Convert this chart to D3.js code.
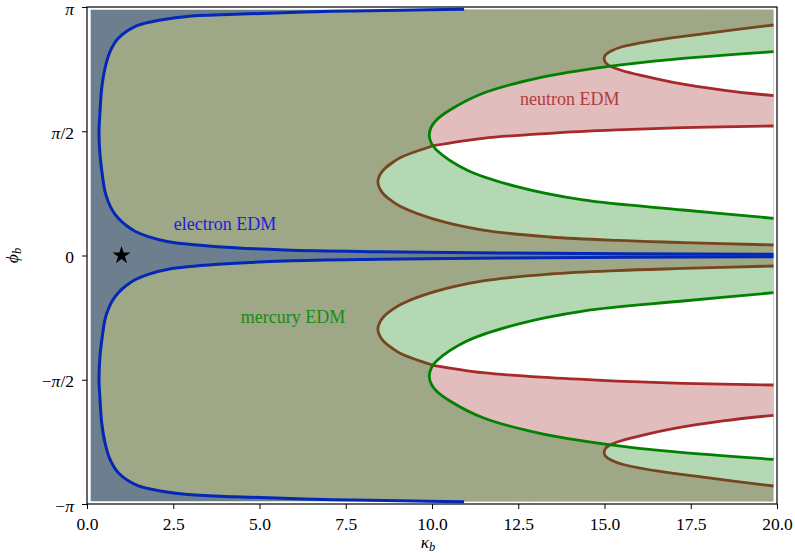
<!DOCTYPE html>
<html>
<head>
<meta charset="utf-8">
<script src="https://cdn.jsdelivr.net/npm/d3@7"></script>
<style>
  body { margin: 0; background: #fff; }
  svg text { font-family: "Liberation Serif", "Times New Roman", serif; }
</style>
</head>
<body>
<svg id="chart" width="795" height="553"></svg>
<script>
// axis ranges and ticks
const kappaDomain = [0, 20]
const phiDomain = [-Math.PI, Math.PI]
const gridKappa = [0.1, 19.9]
const gridPhi = [-3.11, 3.11]
const xTicks = [0, 2.5, 5, 7.5, 10, 12.5, 15, 17.5, 20]
const yTicks = [-Math.PI, -Math.PI / 2, 0, Math.PI / 2, Math.PI]
const yTickLabels = ['−π', '−π/2', '0', 'π/2', 'π']

// electron EDM contour, [kappa, phi]
const electronUpper = [
  [10.93, 3.113], [9.07, 3.101], [7.62, 3.091], [6.32, 3.078], [4.29, 3.049],
  [2.84, 3.019], [1.875, 2.956], [1.39, 2.893], [0.907, 2.746], [0.667, 2.577],
  [0.522, 2.367], [0.426, 2.114], [0.377, 1.818], [0.348, 1.565], [0.377, 1.271],
  [0.426, 1.081], [0.472, 0.933], [0.522, 0.807], [0.617, 0.680], [0.739, 0.569],
  [0.928, 0.461], [1.130, 0.383], [1.391, 0.307], [1.777, 0.238], [2.357, 0.174],
  [3.806, 0.111], [5.739, 0.070], [8.49, 0.048], [11.97, 0.032], [19.9, 0.015]
]
const electronLower = [
  [10.93, -3.113], [9.07, -3.101], [7.62, -3.091], [6.32, -3.078], [4.29, -3.049],
  [2.84, -3.019], [1.875, -2.956], [1.39, -2.893], [0.907, -2.746], [0.667, -2.577],
  [0.522, -2.367], [0.426, -2.114], [0.377, -1.818], [0.348, -1.565], [0.377, -1.271],
  [0.426, -1.081], [0.472, -0.933], [0.522, -0.807], [0.617, -0.680], [0.739, -0.569],
  [0.928, -0.461], [1.130, -0.383], [1.391, -0.307], [1.777, -0.238], [2.357, -0.174],
  [3.806, -0.111], [5.739, -0.070], [8.49, -0.048], [11.97, -0.032], [19.9, -0.015]
]

// neutron EDM contours: part outside the mercury region, then part inside it
const neutronBigUpperOut = [
  [19.9, 0.133], [17.28, 0.164], [15.36, 0.190], [13.42, 0.234], [11.48, 0.322],
  [10.03, 0.464], [9.12, 0.613], [8.88, 0.676], [8.62, 0.765], [8.49, 0.841],
  [8.43, 0.929], [8.49, 1.018], [8.62, 1.094], [8.88, 1.182], [9.12, 1.245], [10.03, 1.388]
]
const neutronBigUpperIn = [
  [10.03, 1.388], [11.48, 1.482], [13.42, 1.545], [15.36, 1.587], [17.28, 1.616], [19.9, 1.637]
]
const neutronBigLowerOut = [
  [19.9, -0.133], [17.28, -0.164], [15.36, -0.190], [13.42, -0.234], [11.48, -0.322],
  [10.03, -0.464], [9.12, -0.613], [8.88, -0.676], [8.62, -0.765], [8.49, -0.841],
  [8.43, -0.929], [8.49, -1.018], [8.62, -1.094], [8.88, -1.182], [9.12, -1.245], [10.03, -1.388]
]
const neutronBigLowerIn = [
  [10.03, -1.388], [11.48, -1.482], [13.42, -1.545], [15.36, -1.587], [17.28, -1.616], [19.9, -1.637]
]
const neutronSmallUpperOut = [
  [19.9, 2.914], [17.97, 2.809], [16.52, 2.724], [15.54, 2.642], [15.19, 2.585],
  [15.03, 2.535], [14.99, 2.491], [15.03, 2.440], [15.16, 2.393]
]
const neutronSmallUpperIn = [
  [15.16, 2.393], [15.46, 2.345], [16.03, 2.279], [16.99, 2.190], [18.43, 2.092], [19.9, 2.020]
]
const neutronSmallLowerOut = [
  [19.9, -2.914], [17.97, -2.809], [16.52, -2.724], [15.54, -2.642], [15.19, -2.585],
  [15.03, -2.535], [14.99, -2.491], [15.03, -2.440], [15.16, -2.393]
]
const neutronSmallLowerIn = [
  [15.16, -2.393], [15.46, -2.345], [16.03, -2.279], [16.99, -2.190], [18.43, -2.092], [19.9, -2.020]
]

// mercury EDM contours
const mercuryUpper = [
  [19.9, 2.577], [16.99, 2.480], [15.07, 2.387], [13.13, 2.248], [11.48, 2.051],
  [10.52, 1.839], [10.13, 1.713], [9.98, 1.625], [9.92, 1.523], [9.98, 1.422],
  [10.13, 1.334], [11.01, 1.081], [12.46, 0.870], [14.38, 0.702], [17.28, 0.575], [19.9, 0.470]
]
const mercuryLower = [
  [19.9, -2.577], [16.99, -2.480], [15.07, -2.387], [13.13, -2.248], [11.48, -2.051],
  [10.52, -1.839], [10.13, -1.713], [9.98, -1.625], [9.92, -1.523], [9.98, -1.422],
  [10.13, -1.334], [11.01, -1.081], [12.46, -0.870], [14.38, -0.702], [17.28, -0.575], [19.9, -0.470]
]

// standard model point
const smPoint = [[1, 0]]

// labels
const labelNames = ['electron EDM', 'mercury EDM', 'neutron EDM']
const labelKappa = [4.0, 5.97, 13.99]
const labelPhi = [0.32, -0.853, 1.903]

const colors = {
  slate: '#6d7f8e',
  olive: '#9ea886',
  green: '#b3d8b3',
  pink: '#e1bdbd',
  blueLine: '#0328b5',
  brownLine: '#76461f',
  redLine: '#a62a2a',
  greenLine: '#028002',
  labels: ['#2020dc', '#178c17', '#b13b3b']
}

const svg = d3.select('#chart')
const plotLeft = 87
const plotRight = 777
const plotTop = 7
const plotBottom = 504

const x = d3.scaleLinear().domain(kappaDomain).range([plotLeft, plotRight])
const y = d3.scaleLinear().domain(phiDomain).range([plotBottom, plotTop])

const line = d3.line()
  .x(d => x(d[0]))
  .y(d => y(d[1]))
  .curve(d3.curveCatmullRom.alpha(0.5))

const defs = svg.append('defs')
defs.append('clipPath').attr('id', 'axes-clip')
  .append('rect')
  .attr('x', plotLeft).attr('y', plotTop)
  .attr('width', plotRight - plotLeft).attr('height', plotBottom - plotTop)
defs.append('clipPath').attr('id', 'grid-clip')
  .append('rect')
  .attr('x', x(gridKappa[0])).attr('y', y(gridPhi[1]))
  .attr('width', x(gridKappa[1]) - x(gridKappa[0]))
  .attr('height', y(gridPhi[0]) - y(gridPhi[1]))

// the mercury region, used to whiten its overlap with neutron regions
const mercuryRegions = [mercuryUpper, mercuryLower]
const mercuryClip = defs.append('clipPath').attr('id', 'mercury-clip')
mercuryRegions.forEach(r => {
  mercuryClip.append('path').attr('d', line(r) + 'Z')
})

const fills = svg.append('g').attr('clip-path', 'url(#grid-clip)')

fills.append('rect')
  .attr('x', x(gridKappa[0])).attr('y', y(gridPhi[1]))
  .attr('width', x(gridKappa[1]) - x(gridKappa[0]))
  .attr('height', y(gridPhi[0]) - y(gridPhi[1]))
  .style('fill', colors.slate)

// regions enclosed by the electron contour and the top / bottom of the grid
fills.append('path')
  .attr('d', line(electronUpper) + `L${x(gridKappa[1])},${y(gridPhi[1])}Z`)
  .style('fill', colors.olive)
fills.append('path')
  .attr('d', line(electronLower) + `L${x(gridKappa[1])},${y(gridPhi[0])}Z`)
  .style('fill', colors.olive)

const neutronRegions = [
  neutronBigUpperOut.concat(neutronBigUpperIn),
  neutronBigLowerOut.concat(neutronBigLowerIn),
  neutronSmallUpperOut.concat(neutronSmallUpperIn),
  neutronSmallLowerOut.concat(neutronSmallLowerIn)
]

fills.selectAll('.neutron-fill')
  .data(neutronRegions)
  .enter()
  .append('path')
  .attr('class', 'neutron-fill')
  .attr('d', d => line(d) + 'Z')
  .style('fill', colors.green)

fills.selectAll('.mercury-fill')
  .data(mercuryRegions)
  .enter()
  .append('path')
  .attr('class', 'mercury-fill')
  .attr('d', d => line(d) + 'Z')
  .style('fill', colors.pink)

fills.append('g')
  .attr('clip-path', 'url(#mercury-clip)')
  .selectAll('path')
  .data(neutronRegions)
  .enter()
  .append('path')
  .attr('d', d => line(d) + 'Z')
  .style('fill', '#fff')

// contour lines
const lines = svg.append('g').attr('clip-path', 'url(#axes-clip)')
  .style('fill', 'none')
  .style('stroke-width', 2.8)
  .style('stroke-linejoin', 'round')

lines.selectAll('.electron')
  .data([electronUpper, electronLower])
  .enter().append('path')
  .attr('d', line)
  .style('stroke', colors.blueLine)
  .style('stroke-width', 3)

lines.selectAll('.neutron-out')
  .data([neutronBigUpperOut, neutronBigLowerOut, neutronSmallUpperOut, neutronSmallLowerOut])
  .enter().append('path')
  .attr('d', line)
  .style('stroke', colors.brownLine)

lines.selectAll('.neutron-in')
  .data([neutronBigUpperIn, neutronBigLowerIn, neutronSmallUpperIn, neutronSmallLowerIn])
  .enter().append('path')
  .attr('d', line)
  .style('stroke', colors.redLine)

lines.selectAll('.mercury')
  .data(mercuryRegions)
  .enter().append('path')
  .attr('d', line)
  .style('stroke', colors.greenLine)

// labels
svg.selectAll('.label')
  .data(labelNames)
  .enter()
  .append('text')
  .attr('class', 'label')
  .attr('x', (d, i) => x(labelKappa[i]))
  .attr('y', (d, i) => y(labelPhi[i]))
  .attr('text-anchor', 'middle')
  .style('font-size', '18px')
  .style('fill', (d, i) => colors.labels[i])
  .text(d => d)

// SM star
svg.selectAll('.star')
  .data(smPoint)
  .enter()
  .append('path')
  .attr('class', 'star')
  .attr('transform', d => `translate(${x(d[0])},${y(d[1])})`)
  .attr('d', d3.symbol(d3.symbolStar).size(100))
  .style('fill', '#000')

// axes
const xAxis = svg.append('g')
  .attr('transform', `translate(0,${plotBottom})`)
  .call(d3.axisBottom(x).tickValues(xTicks).tickFormat(d3.format('.1f'))
    .tickSize(5).tickSizeOuter(0).tickPadding(8.5))
const yAxis = svg.append('g')
  .attr('transform', `translate(${plotLeft},0)`)
  .call(d3.axisLeft(y).tickValues(yTicks).tickSize(5).tickSizeOuter(0).tickPadding(8))

;[xAxis, yAxis].forEach(a => {
  a.selectAll('text').style('font-size', '17.5px').style('font-family', '"Liberation Serif", serif').style('fill', '#000')
  a.selectAll('line').style('stroke', '#000').style('stroke-width', 1)
  a.select('.domain').remove()
})

// y tick labels with italic pi
yAxis.selectAll('.tick text').each(function (d, i) {
  const t = d3.select(this).text('').attr('dy', '0.4em')
  const parts = yTickLabels[i].split('π')
  parts.forEach((p, j) => {
    if (p) t.append('tspan').text(p)
    if (j < parts.length - 1) t.append('tspan').style('font-style', 'italic').text('π')
  })
})

// frame
svg.append('rect')
  .attr('x', plotLeft).attr('y', plotTop)
  .attr('width', plotRight - plotLeft).attr('height', plotBottom - plotTop)
  .style('fill', 'none')
  .style('stroke', '#000')
  .style('stroke-width', 1.2)

// axis titles
const xTitle = svg.append('text')
  .attr('x', x(10) - 4)
  .attr('y', 548)
  .attr('text-anchor', 'middle')
  .style('font-size', '17.5px')
xTitle.append('tspan').style('font-style', 'italic').text('κ')
xTitle.append('tspan').style('font-style', 'italic').style('font-size', '12.5px').attr('dy', 3).text('b')

const yTitle = svg.append('text')
  .attr('transform', `translate(18,${y(0)}) rotate(-90)`)
  .attr('text-anchor', 'middle')
  .style('font-size', '17.5px')
yTitle.append('tspan').style('font-style', 'italic').text('ϕ')
yTitle.append('tspan').style('font-style', 'italic').style('font-size', '12.5px').attr('dy', 3).text('b')
</script>
</body>
</html>
